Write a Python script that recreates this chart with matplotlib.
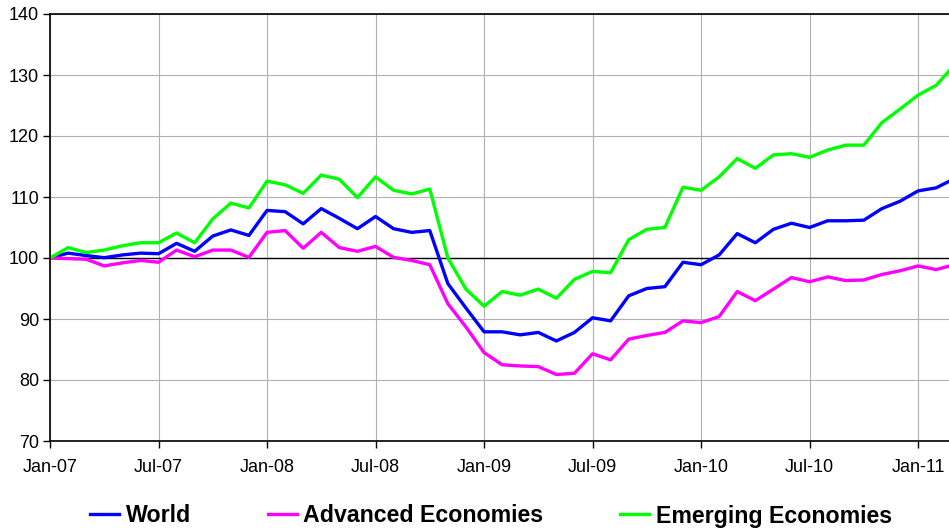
import matplotlib.pyplot as plt
import numpy as np

plt.rcParams['font.family'] = ['Liberation Sans', 'DejaVu Sans']

# monthly index values, Jan-07 .. Mar-11
world = [100.0, 100.8, 100.4, 100.05, 100.5, 100.8, 100.7, 102.4, 101.1, 103.6,
         104.6, 103.7, 107.8, 107.6, 105.6, 108.1, 106.5, 104.8, 106.8, 104.8,
         104.2, 104.5, 95.8, 91.8, 87.9, 87.9, 87.4, 87.8, 86.4, 87.8,
         90.2, 89.7, 93.8, 95.0, 95.3, 99.3, 98.9, 100.5, 104.0, 102.5,
         104.7, 105.7, 105.0, 106.1, 106.1, 106.2, 108.1, 109.3, 111.0, 111.5,
         113.0]
advanced = [100.0, 99.9, 99.8, 98.7, 99.2, 99.6, 99.3, 101.3, 100.2, 101.3,
            101.3, 100.1, 104.2, 104.5, 101.6, 104.2, 101.7, 101.1, 101.9, 100.1,
            99.6, 98.9, 92.5, 88.7, 84.5, 82.5, 82.3, 82.2, 80.9, 81.1,
            84.3, 83.3, 86.7, 87.3, 87.8, 89.7, 89.4, 90.4, 94.5, 93.0,
            94.9, 96.8, 96.1, 96.9, 96.3, 96.4, 97.3, 97.9, 98.7, 98.1,
            98.9]
emerging = [100.0, 101.7, 100.9, 101.3, 102.0, 102.5, 102.5, 104.1, 102.5, 106.4,
            109.0, 108.2, 112.6, 112.0, 110.6, 113.6, 112.9, 109.9, 113.3, 111.1,
            110.5, 111.3, 100.0, 94.9, 92.1, 94.5, 93.9, 94.9, 93.4, 96.5,
            97.8, 97.6, 103.0, 104.7, 105.0, 111.6, 111.1, 113.3, 116.3, 114.7,
            116.9, 117.1, 116.5, 117.7, 118.5, 118.5, 122.2, 124.4, 126.7, 128.3,
            131.6]
tick_labels = ["Jan-07", "Jul-07", "Jan-08", "Jul-08", "Jan-09",
               "Jul-09", "Jan-10", "Jul-10", "Jan-11"]

months = np.arange(len(world))

fig = plt.figure(figsize=(9.49, 5.29), dpi=100)
ax = fig.add_axes([50 / 949, 1 - 441 / 529, 1 - 50 / 949, (441 - 14) / 529])

ax.plot(months, world, color='#0000ff', lw=2.4, label='World')
ax.plot(months, advanced, color='#ff00ff', lw=2.4, label='Advanced Economies')
ax.plot(months, emerging, color='#00ff00', lw=2.4, label='Emerging Economies')
ax.axhline(100, color='black', lw=1.0, zorder=1)

ax.set_xlim(0, 49.71)
ax.set_ylim(70, 140)
ax.set_yticks(np.arange(70, 141, 10))
ax.set_xticks(np.arange(0, 49, 6))
ax.set_xticklabels(tick_labels)
ax.tick_params(axis='both', labelsize=13, direction='out', length=5, width=1)
ax.tick_params(axis='x', pad=8)
ax.tick_params(axis='y', pad=3)
ax.grid(True, color='#b0b0b0', lw=0.8)
ax.set_axisbelow(True)

for s in ['left', 'bottom', 'top']:
    ax.spines[s].set_linewidth(1.2)
ax.spines['right'].set_visible(False)

fig.legend(loc='center', bbox_to_anchor=(491 / 949, 1 - 516 / 529), ncol=3,
           frameon=False, prop={'size': 16.7, 'weight': 'bold'},
           handlelength=1.25, handletextpad=0.3, columnspacing=3.3)

fig.savefig('out.png', dpi=100)
